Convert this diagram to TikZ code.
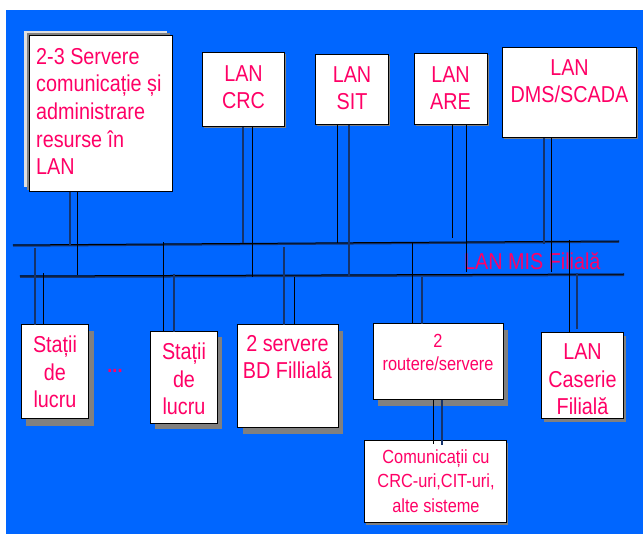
\documentclass[tikz,border=0pt]{standalone}
\usepackage{fontspec}
\setmainfont{Liberation Sans}[FakeStretch=0.86]
\definecolor{bgblue}{HTML}{0066FF}
\definecolor{pinktxt}{HTML}{FF0066}
\definecolor{shgray}{HTML}{808080}
\definecolor{lightsh}{HTML}{E0E0E0}
\definecolor{dkline}{HTML}{15336B}
\tikzset{
  boxw/.style={draw=black, line width=1pt, fill=white, rectangle, inner sep=0pt, outer sep=0pt, anchor=north west},
  txtbig/.style={text=pinktxt, inner sep=0pt, align=center, font=\fontsize{23}{27.7}\selectfont},
  txtsmall/.style={text=pinktxt, inner sep=0pt, align=center, font=\fontsize{19}{23.5}\selectfont},
  lkb/.style={draw=black, line width=0.9pt},
  lkd/.style={draw=dkline, line width=1.5pt},
  shadow/.style={fill=shgray, draw=none},
}
\begin{document}
\begin{tikzpicture}[x=1pt,y=-1pt]
\useasboundingbox (0,0) rectangle (643,534);
\fill[white] (0,0) rectangle (643,534);
\fill[bgblue] (6,10) rectangle (643,534);

% bus lines
\coordinate (busUL) at (13,245);
\coordinate (busUR) at (619,241);
\coordinate (busLL) at (20,276);
\coordinate (busLR) at (624,274);
\draw[draw=dkline, line width=1.5pt] ([yshift=-1pt]busUL) -- ([yshift=-1pt]busUR);
\draw[draw=black, line width=1pt] (busUL) -- (busUR);
\draw[draw=dkline, line width=2pt] ([yshift=-1pt]busLL) -- ([yshift=-1pt]busLR);
\draw[draw=black, line width=1pt] (busLL) -- (busLR);

% server box with top-left shadow
\fill[lightsh] (24,31) rectangle (167,187);
\fill[shgray] (27,33) rectangle (170,190);
\node[boxw, minimum width=143pt, minimum height=156pt] (srv) at (29,36) {};
\node[txtbig, align=left, anchor=base west] (srvT) at (36,175) {2-3 Servere\\comunica\char"021B ie \char"0219 i\\administrare\\resurse în\\LAN};

% top boxes
\fill[shgray] (203.5,54.5) rectangle (285.5,128.5);
\node[boxw, minimum width=82pt, minimum height=74pt] (crc) at (202,53) {};
\node[txtbig, anchor=base] (crcT) at (243.5,109) {LAN\\CRC};

\fill[shgray] (316.5,56.5) rectangle (389.5,126.5);
\node[boxw, minimum width=73pt, minimum height=70pt] (sit) at (315,55) {};
\node[txtbig, anchor=base] (sitT) at (352,110) {LAN\\SIT};

\fill[shgray] (415.5,55.5) rectangle (488.5,126.5);
\node[boxw, minimum width=73pt, minimum height=71pt] (are) at (414,54) {};
\node[txtbig, anchor=base] (areT) at (450.5,110) {LAN\\ARE};

\fill[shgray] (503.5,49.5) rectangle (637.5,139.5);
\node[boxw, minimum width=134pt, minimum height=90pt] (dms) at (502,48) {};
\node[txtbig, anchor=base] (dmsT) at (569.5,103) {LAN\\DMS/SCADA};

% bottom boxes
\fill[shgray] (26,331) rectangle (94,426);
\node[boxw, minimum width=67pt, minimum height=94pt] (st1) at (21,325) {};
\node[txtbig, anchor=base] (st1T) at (55,408) {Sta\char"021B ii\\de\\lucru};

\node[text=pinktxt, inner sep=0pt, anchor=base, font=\bfseries\fontsize{21}{25}\selectfont] (dots) at (115,373) {...};

\fill[shgray] (155,337) rectangle (222,429);
\node[boxw, minimum width=67pt, minimum height=92pt] (st2) at (150,332) {};
\node[txtbig, anchor=base] (st2T) at (184,415) {Sta\char"021B ii\\de\\lucru};

\fill[shgray] (243,331) rectangle (343,434);
\node[boxw, minimum width=101pt, minimum height=103pt] (bd) at (237,325) {};
\node[txtbig, anchor=base] (bdT) at (287.5,379) {2 servere\\BD Fillial\u{a}};

\fill[shgray] (378,330) rectangle (508,406);
\node[boxw, minimum width=130pt, minimum height=76pt] (rt) at (373,324) {};
\node[txtsmall, anchor=base] (rtT) at (438,371) {2\\routere/servere};

\fill[shgray] (544,336) rectangle (626,422);
\node[boxw, minimum width=82pt, minimum height=86pt] (cas) at (541,333) {};
\node[txtbig, anchor=base] (casT) at (582.5,415) {LAN\\Caserie\\Filial\u{a}};

\fill[shgray] (366,443) rectangle (508,525);
\node[boxw, minimum width=142pt, minimum height=82pt] (com) at (364,441) {};
\node[txtsmall, anchor=base, font=\fontsize{19}{24}\selectfont] (comT) at (436,512) {Comunica\char"021B ii cu\\CRC-uri,CIT-uri,\\alte sisteme};

% bus label
\node[text=pinktxt, inner sep=0pt, anchor=base west, font=\fontsize{23}{27.7}\selectfont] (mis) at (464,270) {LAN MIS Filial\u{a}};

% connectors: boxes above the buses
\draw[lkd] (srv.south west) ++(41,0) -- +(0,53);
\draw[lkb] (srv.south west) ++(48,0) -- +(0,83);
\draw[lkd] (crc.south west) ++(41,0) -- +(0,116);
\draw[lkb] (crc.south west) ++(50,0) -- +(0,150);
\draw[lkb] (sit.south west) ++(22,0) -- +(0,118);
\draw[lkd] (sit.south west) ++(34,0) -- +(0,152);
\draw[lkb] (are.south west) ++(38,0) -- +(0,113);
\draw[lkb] (are.south west) ++(52,0) -- +(0,147);
\draw[lkd] (dms.south west) ++(42,0) -- +(0,106);
\draw[lkb] (dms.south west) ++(49,0) -- +(0,134);

% connectors: boxes below the buses
\draw[lkd] (st1.north west) ++(14,0) -- +(0,-77);
\draw[lkb] (st1.north west) ++(22,0) -- +(0,-52);
\draw[lkb] (st2.north west) ++(13,0) -- +(0,-90);
\draw[lkd] (st2.north west) ++(24,0) -- +(0,-58);
\draw[lkd] (bd.north west) ++(47,0) -- +(0,-78);
\draw[lkb] (bd.north west) ++(57,0) -- +(0,-48);
\draw[lkb] (rt.north west) ++(39,0) -- +(0,-82);
\draw[lkd] (rt.north west) ++(49,0) -- +(0,-47);
\draw[lkb] (cas.north west) ++(28,0) -- +(0,-93);
\draw[lkd] (cas.north west) ++(36,-4) -- +(0,-56);

% routers to communications
\draw[lkb] (rt.south west) ++(60,0) -- +(0,44);
\draw[lkd] (rt.south west) ++(69,0) -- +(0,45);
\end{tikzpicture}
\end{document}
